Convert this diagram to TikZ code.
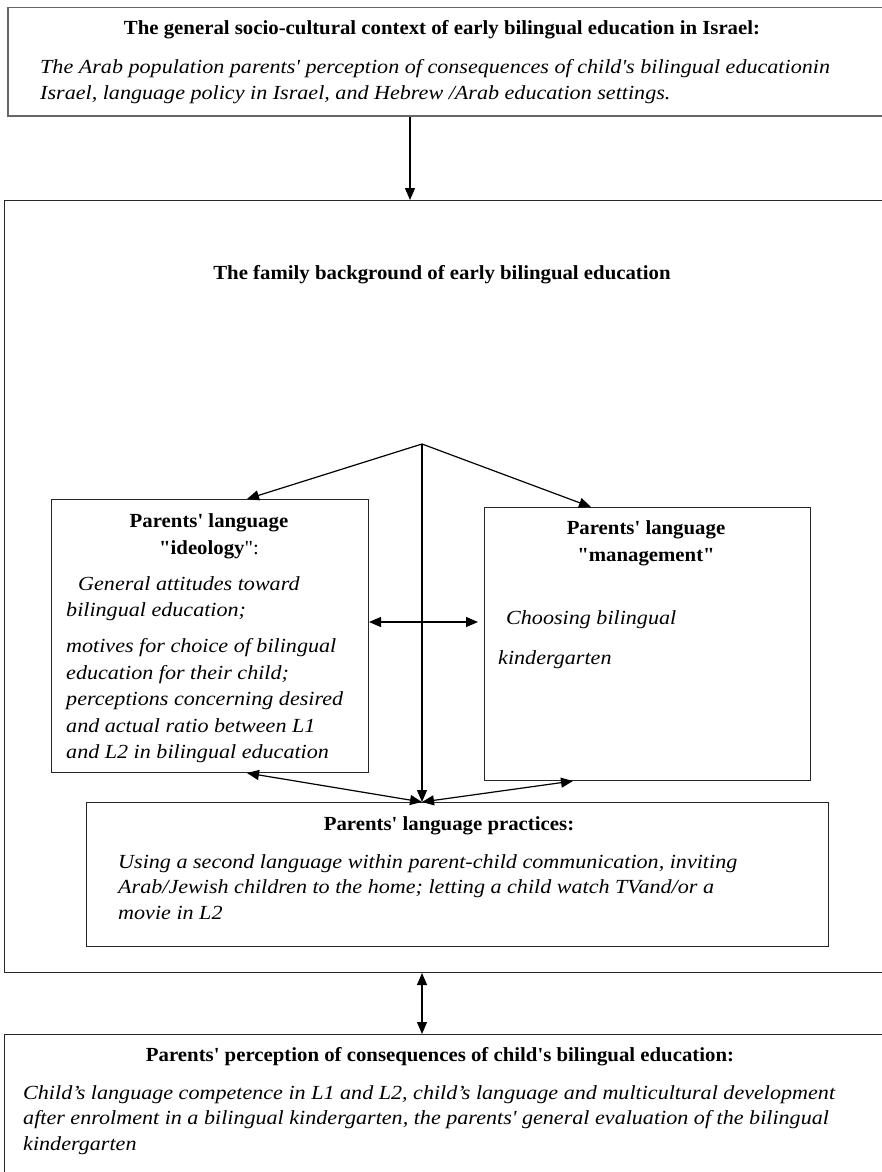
\documentclass[tikz,border=0pt]{standalone}
\usepackage{fontspec}
\newfontfamily\ttlfont{Liberation Serif}[FakeStretch=1.04]
\newfontfamily\bodyfont{Liberation Serif}[FakeStretch=1.105]
\usetikzlibrary{arrows.meta, calc}
\tikzset{
	framebox/.style={draw=black!85, line width=1pt, anchor=north west, inner sep=0pt},
	ttl/.style={font=\ttlfont\bfseries\fontsize{20}{27}\selectfont, inner sep=0pt, align=center},
	bodytxt/.style={font=\bodyfont\itshape\fontsize{20}{25.8}\selectfont, inner sep=0pt,
		align=left, anchor=north west},
	linkarr/.style={-{Triangle[length=12pt, width=10pt]}, line width=1.2pt},
	duoarr/.style={{Triangle[length=12pt, width=10pt]}-{Triangle[length=12pt, width=10pt]}, line width=1.2pt},
}

\begin{document}
\begin{tikzpicture}[x=1pt, y=-1pt]
	\useasboundingbox (0,0) rectangle (882,1172);
	\clip (0,0) rectangle (882,1172);

	% outer frames, the wide ones run past the right edge of the page
	\node[framebox, draw=black!60, line width=1.5pt, minimum width=890pt, minimum height=108pt] (ctx) at (7,7) {};
	\node[framebox, minimum width=895pt, minimum height=772pt] (fam) at (4,200) {};
	\node[framebox, minimum width=895pt, minimum height=170pt] (cons) at (4,1034) {};

	\node[ttl, anchor=mid] (ctxttl) at (442,32)
		{The general socio-cultural context of early bilingual education in Israel:};
	\node[bodytxt] (ctxtxt) at (40,59)
		{The Arab population parents' perception of consequences of child's bilingual educationin\\
		Israel, language policy in Israel, and Hebrew /Arab education settings.};

	\node[ttl, anchor=mid] (famttl) at (442,277) {The family background of early bilingual education};

	% the three inner boxes
	\node[framebox, minimum width=317pt, minimum height=273pt] (ideo) at (51,499) {};
	\node[framebox, minimum width=326pt, minimum height=273pt] (mgmt) at (484,507) {};
	\node[framebox, minimum width=742pt, minimum height=144pt] (prac) at (86,802) {};

	\node[ttl, anchor=north] (ideottl) at (209,513)
		{Parents' language\\ "ideology\textmd{":}};
	\node[bodytxt, font=\bodyfont\itshape\fontsize{20}{26.4}\selectfont] (ideotxt) at (66,576)
		{\hspace*{12pt}General attitudes toward\\
		bilingual education;\\[10pt]
		motives for choice of bilingual\\
		education for their child;\\
		perceptions concerning desired\\
		and actual ratio between L1\\
		and L2 in bilingual education};

	\node[ttl, anchor=north] (mgmtttl) at (646,520)
		{Parents' language\\ "management"};
	\node[bodytxt] (mgmttxt) at (498,610)
		{\hspace*{8pt}Choosing bilingual\\[14.5pt]
		kindergarten};

	\node[ttl, anchor=mid] (practtl) at (449,828) {Parents' language practices:};
	\node[bodytxt] (practxt) at (118,854)
		{Using a second language within parent-child communication, inviting\\
		Arab/Jewish children to the home; letting a child watch TVand/or a\\
		movie in L2};

	\node[ttl, anchor=mid] (consttl) at (440,1059)
		{Parents' perception of consequences of child's bilingual education:};
	\node[bodytxt] (constxt) at (23,1085)
		{Child’s language competence in L1 and L2, child’s language and multicultural development\\
		after enrolment in a bilingual kindergarten, the parents' general evaluation of the bilingual\\
		kindergarten};

	% connectors
	\coordinate (split) at (422,444);
	\coordinate (ctxdrop) at (410,0);
	\coordinate (ideoin) at (247,0);
	\coordinate (mgmtin) at (591,0);
	\coordinate (mgmtout) at (573,0);
	\coordinate (row) at (0,622);

	\draw[linkarr] (ctx.south -| ctxdrop) -- (fam.north -| ctxdrop);
	\draw[linkarr] (split) -- (ideo.north -| ideoin);
	\draw[linkarr] (split) -- (mgmt.north -| mgmtin);
	\draw[linkarr] (split) -- (prac.north -| split);
	\draw[duoarr, shorten >=6pt] (ideo.east |- row) -- (mgmt.west |- row);
	\draw[duoarr] (ideo.south -| ideoin) -- (prac.north -| split);
	\draw[duoarr] (prac.north -| split) -- (mgmt.south -| mgmtout);
	\draw[duoarr] (fam.south -| split) -- (cons.north -| split);
\end{tikzpicture}
\end{document}
